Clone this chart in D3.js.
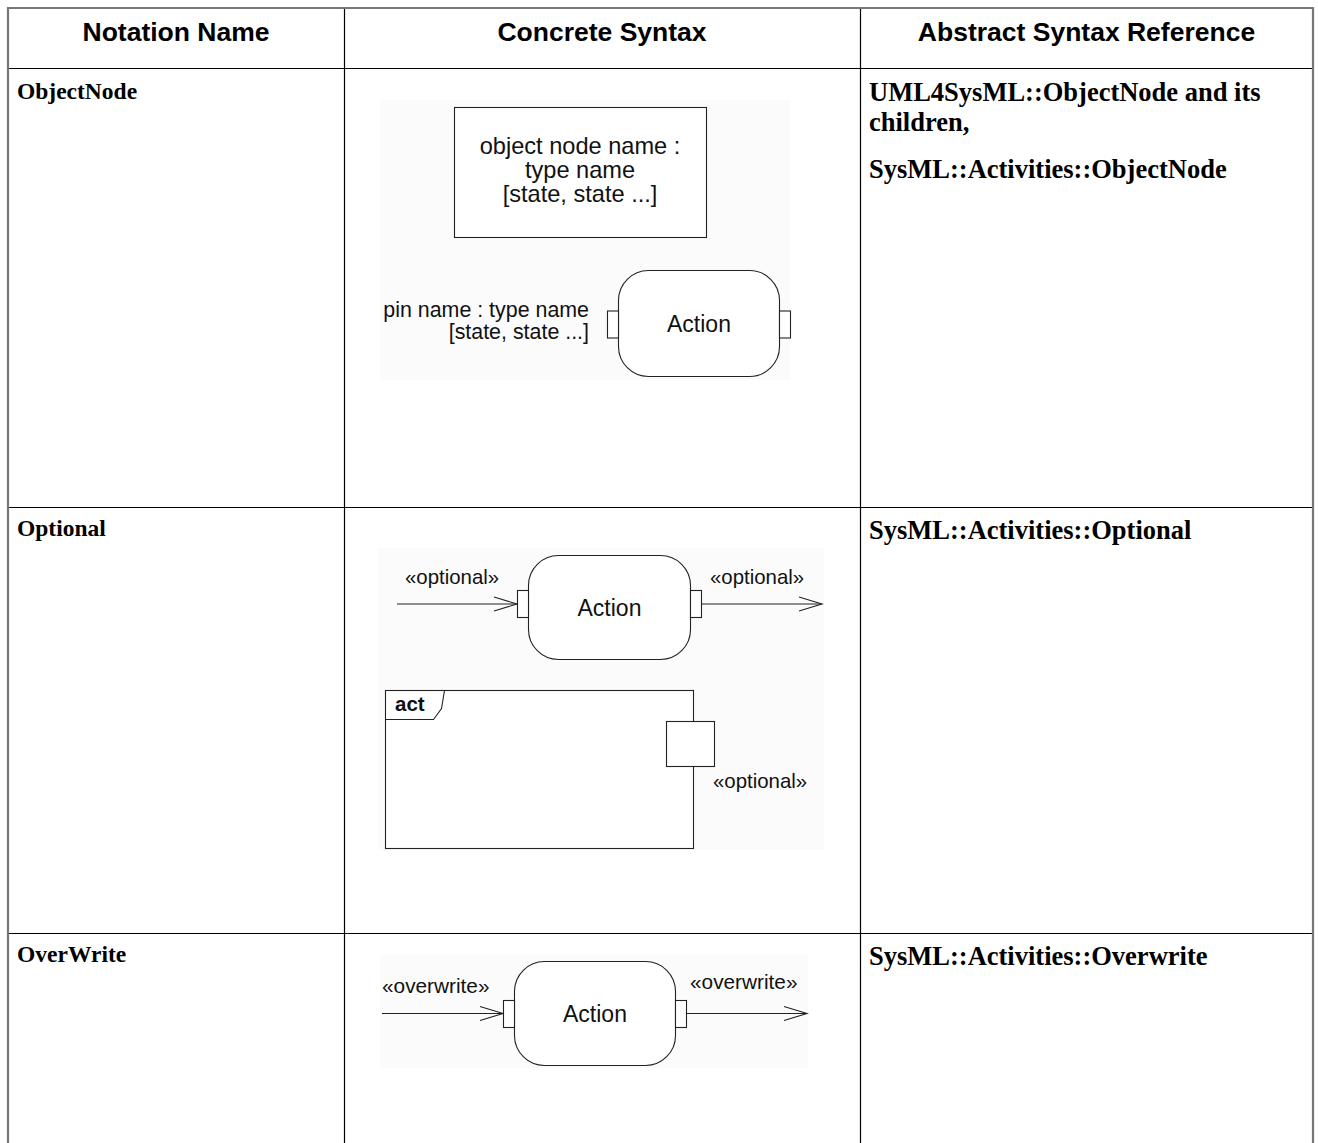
<!DOCTYPE html>
<html><head><meta charset="utf-8">
<script src="https://cdn.jsdelivr.net/npm/d3@7"></script>
<style>
html,body{margin:0;padding:0;background:#fff;}
svg{display:block;}
</style></head>
<body>
<svg id="c" width="1318" height="1143"></svg>
<script>
// ---- data ----
const headers = ["Notation Name", "Concrete Syntax", "Abstract Syntax Reference"];
const notationNames = ["ObjectNode", "Optional", "OverWrite"];
const abstractRefs = [
  ["UML4SysML::ObjectNode and its", "children,", "", "SysML::Activities::ObjectNode"],
  ["SysML::Activities::Optional"],
  ["SysML::Activities::Overwrite"]
];
const objectNodeLines = ["object node name :", "type name", "[state, state ...]"];
const pinLabelLines = ["pin name : type name", "[state, state ...]"];
const actionLabel = "Action";
const stereotypes = ["«optional»", "«overwrite»"];
const frameKeyword = "act";

// ---- layout ----
const svg = d3.select("#c");
const colEdges = [8, 344, 860, 1313];
const rowEdges = [8, 68, 507, 933, 1143];
const sans = "'Liberation Sans', Arial, sans-serif";
const serif = "'Liberation Serif', 'Times New Roman', serif";
const ink = "#222";

// faint image backgrounds
const bgs = [[380,100,410,280],[378,548,446,302],[380,955,428,113]];
svg.selectAll("rect.bg").data(bgs).join("rect").attr("class","bg")
  .attr("x",d=>d[0]).attr("y",d=>d[1]).attr("width",d=>d[2]).attr("height",d=>d[3])
  .attr("fill","#fbfbfb");

// grid lines
svg.selectAll("line.h").data(rowEdges.slice(1,4)).join("line").attr("class","h")
  .attr("x1",8).attr("x2",1313).attr("y1",d=>d+0.5).attr("y2",d=>d+0.5)
  .attr("stroke","#000").attr("stroke-width",1.2);
svg.selectAll("line.v").data(colEdges.slice(1,3)).join("line").attr("class","v")
  .attr("x1",d=>d+0.5).attr("x2",d=>d+0.5).attr("y1",8).attr("y2",1143)
  .attr("stroke","#000").attr("stroke-width",1.2);
// outer border
svg.append("path").attr("d","M8,1143 L8,8 L1313,8 L1313,1143")
  .attr("fill","none").attr("stroke","#777").attr("stroke-width",2.2);

// headers
svg.selectAll("text.hd").data(headers).join("text").attr("class","hd")
  .attr("x",(d,i)=>(colEdges[i]+colEdges[i+1])/2).attr("y",41)
  .attr("text-anchor","middle").attr("font-family",sans).attr("font-weight","bold")
  .attr("font-size",26.5).attr("fill","#000").text(d=>d);

// notation names
const nameY = [99, 536, 962];
svg.selectAll("text.nm").data(notationNames).join("text").attr("class","nm")
  .attr("x",17).attr("y",(d,i)=>nameY[i])
  .attr("font-family",serif).attr("font-weight","bold").attr("font-size",23.5)
  .attr("fill","#000").text(d=>d);

// abstract refs
const refY0 = [101, 539, 965];
abstractRefs.forEach((lines,r)=>{
  let y = refY0[r];
  lines.forEach((t)=>{
    if (t === "") { y += 17; return; }
    svg.append("text").attr("x",869).attr("y",y)
      .attr("font-family",serif).attr("font-weight","bold").attr("font-size",26.5)
      .attr("fill","#000").text(t);
    y += 30;
  });
});

// ---- diagram helpers ----
function actionNode(g, x, y, w, h, label, pinY, pinH) {
  g.append("rect").attr("x",x).attr("y",y).attr("width",w).attr("height",h)
    .attr("rx",30).attr("ry",30).attr("fill","#fff").attr("stroke",ink).attr("stroke-width",1.1);
  g.append("rect").attr("x",x-11).attr("y",pinY).attr("width",11).attr("height",pinH)
    .attr("fill","#fff").attr("stroke",ink).attr("stroke-width",1.1);
  g.append("rect").attr("x",x+w).attr("y",pinY).attr("width",11).attr("height",pinH)
    .attr("fill","#fff").attr("stroke",ink).attr("stroke-width",1.1);
  g.append("text").attr("x",x+w/2).attr("y",y+h/2+8).attr("text-anchor","middle")
    .attr("font-family",sans).attr("font-size",23).attr("fill","#111").text(label);
}
function arrow(g, x1, x2, y) {
  g.append("line").attr("x1",x1).attr("x2",x2).attr("y1",y).attr("y2",y)
    .attr("stroke",ink).attr("stroke-width",1.1);
  g.append("path").attr("d",`M${x2-23},${y-7} L${x2},${y} L${x2-23},${y+7}`)
    .attr("fill","none").attr("stroke",ink).attr("stroke-width",1.1);
}
function label(g, x, y, t, anchor, size, weight) {
  g.append("text").attr("x",x).attr("y",y).attr("text-anchor",anchor||"start")
    .attr("font-family",sans).attr("font-size",size||20).attr("font-weight",weight||"normal")
    .attr("fill","#111").text(t);
}

// Row 1: ObjectNode
const g1 = svg.append("g");
g1.append("rect").attr("x",454.5).attr("y",107.5).attr("width",252).attr("height",130)
  .attr("fill","#fff").attr("stroke",ink).attr("stroke-width",1.1);
objectNodeLines.forEach((t,i)=>label(g1, 580, 154+i*24, t, "middle", 23.6));
actionNode(g1, 618.5, 270.5, 161, 106, actionLabel, 311, 27);
pinLabelLines.forEach((t,i)=>label(g1, 589, 317+i*22, t, "end", 21.4));

// Row 2: Optional
const g2 = svg.append("g");
arrow(g2, 397, 517, 604);
actionNode(g2, 528.5, 555.5, 162, 104, actionLabel, 590.5, 27);
arrow(g2, 702, 822, 604);
label(g2, 405, 584, stereotypes[0], "start", 20.4);
label(g2, 710, 584, stereotypes[0], "start", 20.4);
// activity frame
g2.append("rect").attr("x",385.5).attr("y",690.5).attr("width",308).attr("height",158)
  .attr("fill","#fff").attr("stroke",ink).attr("stroke-width",1.1);
g2.append("path").attr("d","M385.5,719.5 L433.5,719.5 L441.5,708.5 L444.5,690.5")
  .attr("fill","none").attr("stroke",ink).attr("stroke-width",1.1);
label(g2, 395, 711, frameKeyword, "start", 20.5, "bold");
g2.append("rect").attr("x",666.5).attr("y",721.5).attr("width",48).attr("height",45)
  .attr("fill","#fff").attr("stroke",ink).attr("stroke-width",1.1);
label(g2, 713, 788, stereotypes[0], "start", 20.4);

// Row 3: OverWrite
const g3 = svg.append("g");
arrow(g3, 382, 503, 1013.5);
actionNode(g3, 514.5, 961.5, 161, 104, actionLabel, 1000.5, 27);
arrow(g3, 687, 807, 1013.5);
label(g3, 382, 993, stereotypes[1], "start", 20.8);
label(g3, 690, 989, stereotypes[1], "start", 20.8);
</script>
</body></html>
